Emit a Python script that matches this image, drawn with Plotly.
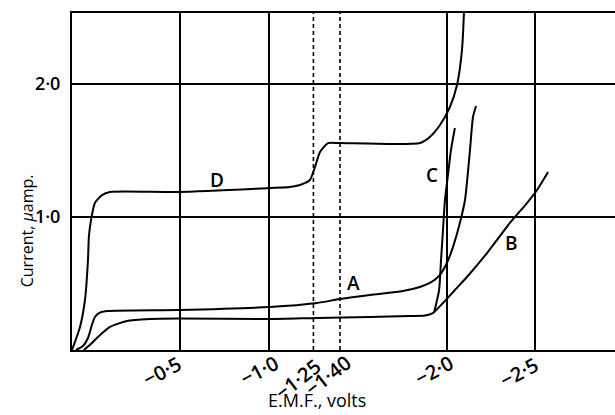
import plotly.graph_objects as go

# ---------------- data (E.M.F. in volts, current in micro-amp) ----------------
d_emf = [0.110, 0.065, 0.037, 0.020, 0.015, 0.003, -0.019, -0.059, -0.104, -0.487,
         -1.011, -1.118, -1.174, -1.230, -1.259, -1.287, -1.332, -1.399, -1.850,
         -1.906, -1.963, -2.019, -2.059, -2.087, -2.098]
d_cur = [0.0, 0.173, 0.376, 0.677, 0.850, 0.977, 1.105, 1.165, 1.188, 1.188,
         1.218, 1.226, 1.241, 1.278, 1.376, 1.489, 1.556, 1.556, 1.556,
         1.602, 1.692, 1.827, 1.992, 2.256, 2.534]

a_emf = [0.088, 0.048, 0.020, -0.002, -0.019, -0.042, -0.087, -0.487, -1.005, -1.270,
         -1.399, -1.568, -1.754, -1.850, -1.906, -1.946, -1.974, -2.002, -2.036,
         -2.075, -2.104, -2.132, -2.149, -2.166]
a_cur = [0.0, 0.030, 0.090, 0.188, 0.248, 0.278, 0.293, 0.301, 0.323, 0.353,
         0.383, 0.414, 0.444, 0.474, 0.504, 0.541, 0.586, 0.654, 0.774,
         0.955, 1.128, 1.504, 1.752, 1.835]

b_emf = [0.043, -0.002, -0.036, -0.104, -0.199, -0.329, -0.487, -1.005, -1.270, -1.568,
         -1.794, -1.879, -1.923, -1.980, -2.047, -2.115, -2.228, -2.357, -2.453,
         -2.510, -2.572]
b_cur = [0.0, 0.053, 0.098, 0.173, 0.218, 0.233, 0.237, 0.233, 0.241, 0.248,
         0.256, 0.259, 0.278, 0.353, 0.451, 0.549, 0.729, 0.955, 1.105,
         1.203, 1.338]

c_emf = [-1.929, -1.958, -1.969, -1.980, -1.991, -2.008, -2.025, -2.047]
c_cur = [0.278, 0.451, 0.677, 0.902, 1.128, 1.316, 1.504, 1.669]

curve_names = ["A", "B", "C", "D"]
label_emf = [-1.478, -2.368, -1.918, -0.706]
label_cur = [0.504, 0.805, 1.316, 1.278]

x_grid_vals = [-0.5, -1.0, -2.0, -2.5]
x_dash_vals = [-1.25, -1.40]
x_tick_vals = [-0.5, -1.0, -1.25, -1.40, -2.0, -2.5]
x_tick_text = ["−0·5", "−1·0", "−1·25", "−1·40", "−2·0", "−2·5"]
y_tick_vals = [1.0, 2.0]
y_tick_text = ["1·0", "2·0"]

x_range = [0.110, -2.949]
y_range = [0.0, 2.534]

# ---------------- styles ----------------
FONT = "Open Sans, Lato, sans-serif"
INK = "black"
LW = 2
# per tick-label placement (pixels / degrees): (xshift, yshift, angle)
tick_style = [(8, 3, -28), (17, 4, -28), (15, 0, -38), (19, 4, -38), (14, 4, -28), (10, 2, -28)]

fig = go.Figure()
for xs, ys in [(a_emf, a_cur), (b_emf, b_cur), (c_emf, c_cur), (d_emf, d_cur)]:
    fig.add_trace(go.Scatter(x=xs, y=ys, mode="lines",
                             line=dict(color=INK, width=LW, shape="spline", smoothing=0.6),
                             hoverinfo="skip", showlegend=False))

for v in x_dash_vals:
    fig.add_shape(type="line", xref="x", yref="paper", x0=v, x1=v, y0=0, y1=1,
                  line=dict(color=INK, width=1.6, dash="4px,3px"), layer="below")

for name, xe, yc in zip(curve_names, label_emf, label_cur):
    fig.add_annotation(x=xe, y=yc, text=name, showarrow=False,
                       font=dict(family=FONT, size=19, color=INK, weight=600))

for v, t, (dx, dy, ang) in zip(x_tick_vals, x_tick_text, tick_style):
    fig.add_annotation(x=v, xref="x", y=0, yref="paper", text=t, showarrow=False,
                       textangle=ang, xanchor="right", yanchor="top",
                       xshift=dx, yshift=dy,
                       font=dict(family=FONT, size=20, color=INK, weight=600))

fig.add_annotation(x=-0.083, xref="paper", y=0.355, yref="paper",
                   xanchor="center", yanchor="middle",
                   text="Current, <i>μ</i>amp.", textangle=-90, showarrow=False,
                   font=dict(family=FONT, size=16, color=INK, weight=500))
fig.add_annotation(x=0.451, xref="paper", y=-0.148, yref="paper",
                   xanchor="center", yanchor="middle",
                   text="E.M.F., volts", showarrow=False,
                   font=dict(family=FONT, size=18, color=INK, weight=500))

fig.update_layout(
    width=615, height=415,
    margin=dict(l=72, r=0, t=13, b=65),
    paper_bgcolor="white", plot_bgcolor="white",
    xaxis=dict(range=x_range, tickvals=x_grid_vals, showticklabels=False,
               showgrid=True, gridcolor=INK, gridwidth=1.6,
               showline=True, linecolor=INK, linewidth=2, mirror=True,
               zeroline=False, ticks=""),
    yaxis=dict(range=y_range, tickvals=y_tick_vals, ticktext=y_tick_text,
               showgrid=True, gridcolor=INK, gridwidth=1.6,
               showline=True, linecolor=INK, linewidth=2,
               zeroline=False, ticks="", ticklabelstandoff=6,
               tickfont=dict(family=FONT, size=18, color=INK, weight=600)),
)

fig.write_html("out.html")
